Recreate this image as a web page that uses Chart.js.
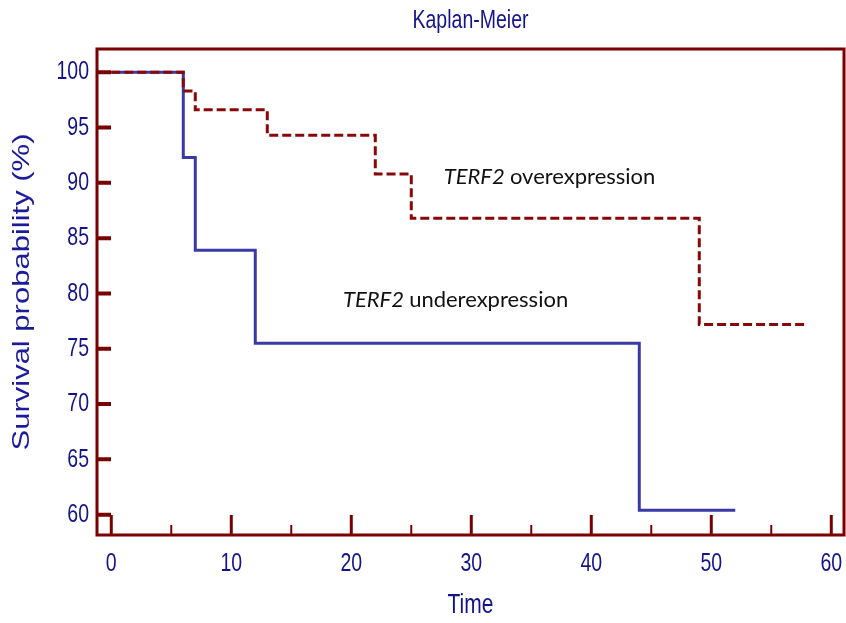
<!DOCTYPE html>
<html>
<head>
<meta charset="utf-8">
<script src="https://cdn.jsdelivr.net/npm/chart.js@4"></script>
<style>
  html, body { margin: 0; padding: 0; background: #ffffff; }
  #wrap { width: 846px; height: 623px; }
</style>
</head>
<body>
<div id="wrap"><canvas id="km" width="846" height="623"></canvas></div>
<script>
// Kaplan-Meier survival estimates (%) at each event time
const overTimes = [0, 6, 7, 13, 22, 25, 49, 58];
const overSurvival = [100, 98.3, 96.6, 94.3, 90.8, 86.8, 77.2, 77.2];
const underTimes = [0, 6, 7, 12, 44, 52];
const underSurvival = [100, 92.3, 83.9, 75.5, 60.4, 60.4];

// Axis ticks
const xMajorTicks = [0, 10, 20, 30, 40, 50, 60];
const xMinorTicks = [5, 15, 25, 35, 45, 55];
const yTicks = [60, 65, 70, 75, 80, 85, 90, 95, 100];

// Curve labels: gene name (italic) + group
const geneName = 'TERF2';
const groupNames = ['overexpression', 'underexpression'];

const NAVY = '#14148a';
const FRAME = '#780000';
const RED = '#880808';
const BLUE = '#3a3aa6';
const SANS = '"Liberation Sans", Arial, sans-serif';

const X_MIN = -1.19, X_MAX = 61.06;
const Y_MIN = 58.16, Y_MAX = 102.1;

const canvas = document.getElementById('km');
const ctx2d = canvas.getContext('2d');

// Axis text is set in a horizontally condensed face: every label drawn
// by the chart is compressed sideways about its own anchor point.
const SQUEEZE = 0.75;
const plainFillText = ctx2d.fillText;
ctx2d.fillText = function (text, x, y, maxWidth) {
  const m = this.getTransform();
  const ax = m.a * x + m.c * y + m.e;
  const ay = m.b * x + m.d * y + m.f;
  this.save();
  this.setTransform(new DOMMatrix().translate(ax, ay).scale(SQUEEZE, 1).translate(-ax, -ay).multiply(m));
  if (maxWidth === undefined) plainFillText.call(this, text, x, y);
  else plainFillText.call(this, text, x, y, maxWidth);
  this.restore();
};

const toPoints = (xs, ys) => xs.map((t, i) => ({ x: t, y: ys[i] }));

// Boxed frame with inward tick marks
const framePlugin = {
  id: 'frameTicks',
  afterDatasetsDraw(chart) {
    const { ctx, chartArea: a, scales: { x, y } } = chart;
    ctx.save();
    ctx.strokeStyle = FRAME;
    ctx.lineCap = 'butt';
    ctx.lineWidth = 4;
    ctx.beginPath();
    yTicks.forEach(v => {
      const py = y.getPixelForValue(v);
      ctx.moveTo(a.left, py);
      ctx.lineTo(a.left + 14, py);
    });
    ctx.stroke();
    ctx.lineWidth = 3;
    ctx.beginPath();
    xMajorTicks.forEach(v => {
      const px = x.getPixelForValue(v);
      ctx.moveTo(px, a.bottom);
      ctx.lineTo(px, a.bottom - 20);
    });
    ctx.stroke();
    ctx.lineWidth = 2;
    ctx.beginPath();
    xMinorTicks.forEach(v => {
      const px = x.getPixelForValue(v);
      ctx.moveTo(px, a.bottom);
      ctx.lineTo(px, a.bottom - 10);
    });
    ctx.stroke();
    ctx.lineWidth = 3;
    ctx.strokeRect(a.left, a.top, a.right - a.left, a.bottom - a.top);
    ctx.restore();
  }
};

// Curve labels placed in data coordinates (regular width text)
const curveLabels = [
  { x: 27.7, y: 89.9, group: groupNames[0] },
  { x: 19.3, y: 78.75, group: groupNames[1] }
];
const labelPlugin = {
  id: 'curveLabels',
  afterDatasetsDraw(chart) {
    const { ctx, scales: { x, y } } = chart;
    ctx.save();
    ctx.fillStyle = '#111111';
    ctx.textBaseline = 'alphabetic';
    ctx.textAlign = 'left';
    curveLabels.forEach(l => {
      let px = x.getPixelForValue(l.x);
      const py = y.getPixelForValue(l.y);
      ctx.font = 'italic 22px Lato, "Open Sans", sans-serif';
      plainFillText.call(ctx, geneName, px, py);
      px += ctx.measureText(geneName + ' ').width;
      ctx.font = '22px Lato, "Open Sans", sans-serif';
      plainFillText.call(ctx, l.group, px, py);
    });
    ctx.restore();
  }
};

const noPadding = s => { s.paddingLeft = 0; s.paddingRight = 0; s.paddingTop = 0; s.paddingBottom = 0; };

new Chart(ctx2d, {
  type: 'line',
  data: {
    datasets: [
      {
        label: geneName + ' ' + groupNames[0],
        data: toPoints(overTimes, overSurvival),
        stepped: 'before',
        borderColor: RED,
        borderWidth: 3,
        borderDash: [9, 4],
        pointRadius: 0,
        fill: false
      },
      {
        label: geneName + ' ' + groupNames[1],
        data: toPoints(underTimes, underSurvival),
        stepped: 'before',
        borderColor: BLUE,
        borderWidth: 3,
        pointRadius: 0,
        fill: false
      }
    ]
  },
  options: {
    responsive: false,
    animation: false,
    devicePixelRatio: 1,
    layout: { padding: { left: 0, right: 2, top: 0, bottom: 0 } },
    plugins: {
      legend: { display: false },
      tooltip: { enabled: false },
      title: { display: false }
    },
    scales: {
      // Top axis only carries the chart heading, centred over the plot box
      top: {
        type: 'linear',
        position: 'top',
        min: X_MIN,
        max: X_MAX,
        afterFit: s => { s.height = 49; noPadding(s); },
        grid: { display: false, drawTicks: false },
        border: { display: false },
        ticks: { display: false },
        title: { display: true, text: 'Kaplan-Meier', color: NAVY, font: { family: SANS, size: 26 }, padding: { top: 5, bottom: 0 } }
      },
      x: {
        type: 'linear',
        position: 'bottom',
        min: X_MIN,
        max: X_MAX,
        afterBuildTicks: s => { s.ticks = xMajorTicks.map(v => ({ value: v })); },
        afterFit: s => { s.height = 88; noPadding(s); },
        grid: { display: false, drawTicks: false },
        border: { display: false },
        ticks: { color: NAVY, font: { family: SANS, size: 26 }, padding: 13, autoSkip: false, maxRotation: 0 },
        title: { display: true, text: 'Time', color: NAVY, font: { family: SANS, size: 28 }, padding: { top: 0, bottom: 1 } }
      },
      y: {
        type: 'linear',
        min: Y_MIN,
        max: Y_MAX,
        afterBuildTicks: s => { s.ticks = yTicks.map(v => ({ value: v })); },
        afterFit: s => { s.width = 97; noPadding(s); },
        grid: { display: false, drawTicks: false },
        border: { display: false },
        ticks: { color: NAVY, font: { family: SANS, size: 26 }, padding: 8, autoSkip: false },
        title: { display: true, text: 'Survival probability (%)', color: '#1c1c9a', font: { family: SANS, size: 31 }, padding: { top: 4, bottom: 0 } }
      }
    }
  },
  plugins: [framePlugin, labelPlugin]
});
</script>
</body>
</html>
